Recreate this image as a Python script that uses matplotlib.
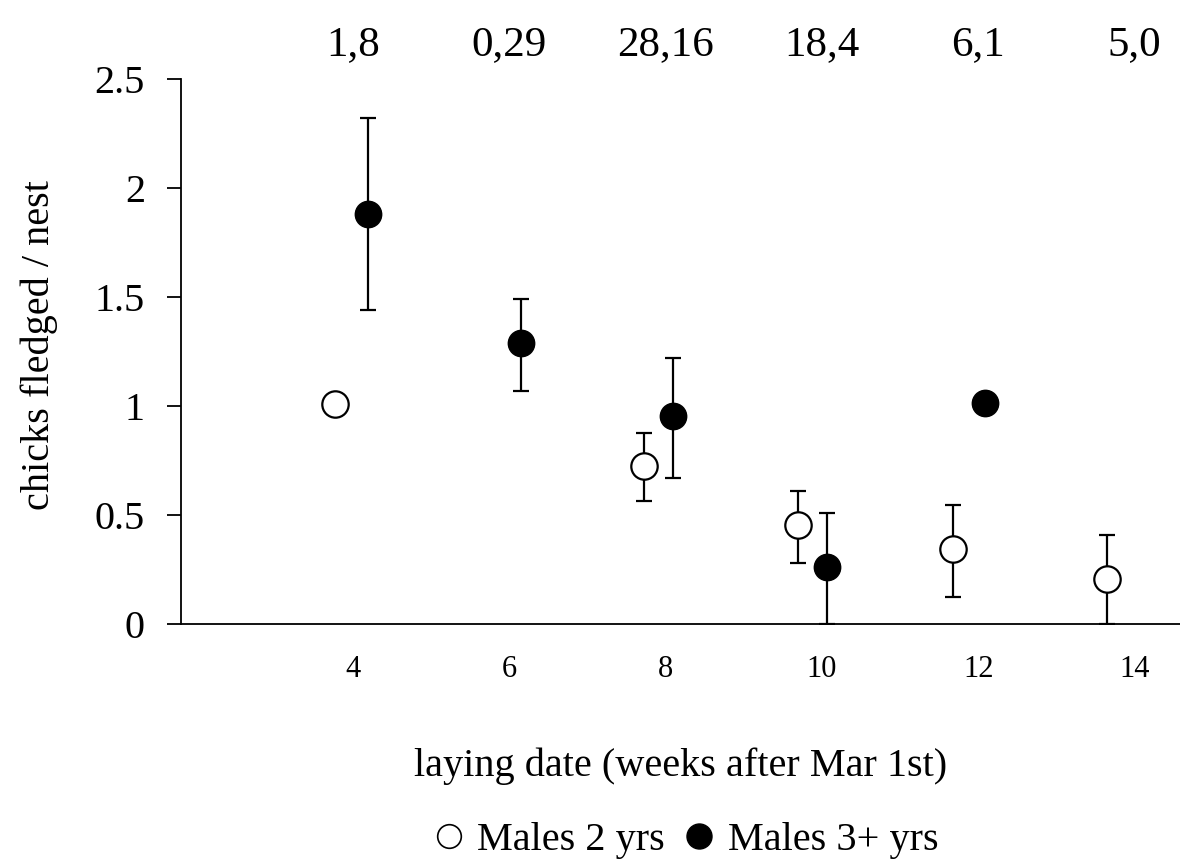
import numpy as np
import matplotlib
matplotlib.use('Agg')
import matplotlib.pyplot as plt
from matplotlib.lines import Line2D
from matplotlib.transforms import blended_transform_factory

plt.rcParams['font.family'] = ['Liberation Serif', 'DejaVu Serif']

# males 2 yrs (open circles)
young_x = [3.77, 7.72, 9.69, 11.67, 13.64]
young_y = [1.01, 0.725, 0.455, 0.345, 0.205]
young_lo = [np.nan, 0.565, 0.28, 0.125, 0.0]
young_hi = [np.nan, 0.875, 0.61, 0.545, 0.41]

# males 3+ yrs (filled circles)
old_x = [4.19, 6.15, 8.10, 10.07, 12.09]
old_y = [1.88, 1.29, 0.955, 0.26, 1.015]
old_lo = [1.44, 1.07, 0.67, 0.0, np.nan]
old_hi = [2.32, 1.49, 1.22, 0.51, np.nan]

weeks = [4, 6, 8, 10, 12, 14]
n_labels = ["1,8", "0,29", "28,16", "18,4", "6,1", "5,0"]

fig = plt.figure(figsize=(11.8, 8.64), dpi=100)
ax = fig.add_axes([0.1534, 0.2778, 0.8466, 0.6308])

def bars(x, y, lo, hi):
    x = np.array(x); y = np.array(y); lo = np.array(lo); hi = np.array(hi)
    m = ~np.isnan(lo)
    ax.errorbar(x[m], y[m], yerr=[y[m] - lo[m], hi[m] - y[m]], fmt='none',
                ecolor='black', elinewidth=1.6, capsize=6, capthick=1.6, zorder=2)

bars(young_x, young_y, young_lo, young_hi)
bars(old_x, old_y, old_lo, old_hi)

ax.plot(young_x, young_y, 'o', ms=19, mfc='white', mec='black', mew=1.6, zorder=3, clip_on=False)
ax.plot(old_x, old_y, 'o', ms=19, mfc='black', mec='black', zorder=3, clip_on=False)

ax.set_xlim(1.8, 14.58)
ax.set_ylim(0, 2.5)
ax.set_xticks(weeks)
ax.set_yticks([0, 0.5, 1, 1.5, 2, 2.5])
ax.set_yticklabels(["0", "0.5", "1", "1.5", "2", "2.5"])
ax.spines['top'].set_visible(False)
ax.spines['right'].set_visible(False)
ax.spines['left'].set_linewidth(1.3)
ax.spines['bottom'].set_linewidth(1.3)
ax.tick_params(axis='x', length=0, pad=22, labelsize=22)
ax.tick_params(axis='y', length=10, width=1.3, pad=16, labelsize=29)

# sample sizes above each week
tr = blended_transform_factory(ax.transData, fig.transFigure)
for w, s in zip(weeks, n_labels):
    ax.text(w, 0.948, s, transform=tr, ha='center', va='center', fontsize=31)

ax.set_xlabel("laying date (weeks after Mar 1st)", fontsize=29)
ax.xaxis.set_label_coords(0.5, -0.226)
ax.set_ylabel("chicks fledged / nest", fontsize=29)
ax.yaxis.set_label_coords(-0.123, 0.512)

handles = [Line2D([], [], ls='none', marker='o', ms=17, mfc='white', mec='black', mew=1.2),
           Line2D([], [], ls='none', marker='o', ms=18, mfc='black', mec='black')]
fig.legend(handles, ["Males 2 yrs", "Males 3+ yrs"], loc='center', bbox_to_anchor=(0.581, 0.027),
           ncol=2, frameon=False, fontsize=29, handletextpad=0.3, columnspacing=0.45,
           handlelength=0.8, borderaxespad=0, borderpad=0)

plt.savefig("out.png", dpi=100)
